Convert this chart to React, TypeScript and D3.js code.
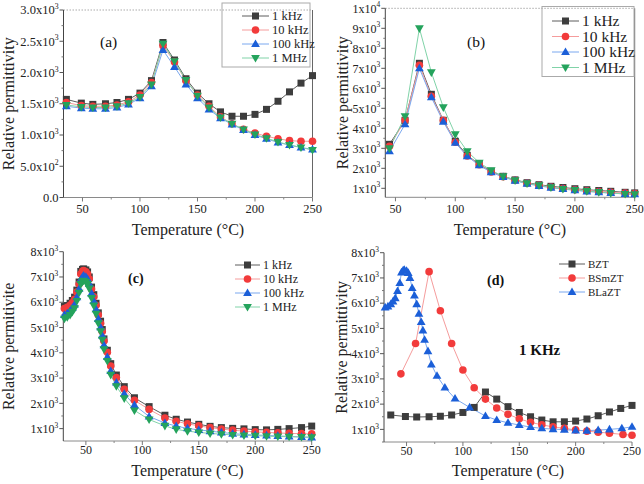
import React from "react";
import * as d3 from "d3";

// ---------- data ----------
const tempA = [36, 49, 59, 70, 80, 90, 100, 110, 120, 130, 140, 150, 160, 170, 180, 190, 200, 210, 220, 230, 240, 250];
const a1kHz = [1570, 1510, 1490, 1500, 1520, 1570, 1670, 1870, 2480, 2200, 1900, 1670, 1500, 1370, 1300, 1300, 1330, 1410, 1540, 1690, 1830, 1950];
const a10kHz = [1520, 1470, 1460, 1460, 1480, 1530, 1640, 1840, 2430, 2170, 1870, 1640, 1460, 1290, 1180, 1090, 1030, 980, 940, 910, 900, 900];
const a100kHz = [1460, 1430, 1420, 1420, 1440, 1490, 1590, 1780, 2360, 2090, 1810, 1590, 1410, 1270, 1170, 1080, 1000, 940, 880, 840, 800, 770];
const a1MHz = [1480, 1450, 1440, 1440, 1460, 1510, 1610, 1810, 2460, 2180, 1880, 1630, 1440, 1280, 1180, 1090, 1010, 950, 890, 840, 800, 760];

const tempB = [45, 58, 70, 80, 90, 100, 110, 120, 130, 140, 150, 160, 170, 180, 190, 200, 210, 220, 230, 242, 250];
const b1kHz = [3200, 4400, 7250, 5700, 4400, 3350, 2650, 2200, 1850, 1600, 1420, 1280, 1180, 1100, 1040, 980, 930, 890, 850, 800, 770];
const b10kHz = [3100, 4400, 7150, 5600, 4400, 3300, 2620, 2180, 1820, 1580, 1400, 1250, 1150, 1060, 990, 930, 880, 840, 800, 760, 740];
const b100kHz = [2850, 4200, 7000, 5550, 4330, 3280, 2600, 2150, 1800, 1560, 1380, 1230, 1120, 1030, 960, 900, 840, 800, 760, 720, 700];
const b1MHz = [3000, 4600, 9000, 6800, 5050, 3700, 2850, 2280, 1900, 1600, 1400, 1250, 1150, 1050, 970, 920, 860, 810, 760, 720, 700];

const tempC = [31, 33.5, 36, 38, 40, 42, 44, 45.5, 47, 48, 50, 51.5, 53, 55, 57, 59, 61, 63, 64.5, 66, 69, 72, 77, 84, 93, 106, 120, 130, 140, 150, 160, 170, 180, 190, 200, 210, 220, 230, 241, 250];
const c1kHz = [5830, 5870, 5960, 6070, 6200, 6480, 6800, 7220, 7300, 7320, 7280, 7200, 7000, 6600, 6300, 5960, 5580, 5250, 4920, 4550, 4100, 3570, 3120, 2660, 2220, 1870, 1530, 1370, 1260, 1170, 1090, 1040, 1010, 990, 960, 950, 970, 1000, 1040, 1100];
const c10kHz = [5750, 5800, 5880, 5980, 6120, 6400, 6720, 7120, 7220, 7250, 7200, 7120, 6920, 6520, 6220, 5880, 5500, 5170, 4840, 4470, 4020, 3480, 3020, 2560, 2120, 1760, 1420, 1290, 1190, 1110, 1040, 980, 940, 900, 870, 850, 830, 810, 800, 790];
const c100kHz = [5500, 5560, 5650, 5770, 5910, 6200, 6530, 6900, 7000, 7050, 7000, 6920, 6730, 6350, 6050, 5720, 5340, 5010, 4680, 4300, 3830, 3280, 2820, 2380, 1930, 1480, 1220, 1100, 1010, 950, 900, 850, 800, 770, 750, 730, 710, 690, 670, 650];
const c1MHz = [5350, 5410, 5500, 5620, 5760, 6050, 6380, 6720, 6820, 6850, 6800, 6720, 6540, 6170, 5870, 5540, 5170, 4850, 4520, 4140, 3680, 3130, 2680, 2200, 1720, 1360, 1110, 970, 900, 850, 810, 780, 750, 730, 720, 700, 690, 680, 670, 660];

const freqNames = ["1 kHz", "10 kHz", "100 kHz", "1 MHz"];
const sampleNames = ["BZT", "BSmZT", "BLaZT"];

const xTicks = [50, 100, 150, 200, 250];
const yTicksA = [0, 500, 1000, 1500, 2000, 2500, 3000];
const yLabelsA = ["0.0", "5.0x10^2", "1.0x10^3", "1.5x10^3", "2.0x10^3", "2.5x10^3", "3.0x10^3"];
const yTicksB = [1000, 2000, 3000, 4000, 5000, 6000, 7000, 8000, 9000, 10000];
const yLabelsB = ["1x10^3", "2x10^3", "3x10^3", "4x10^3", "5x10^3", "6x10^3", "7x10^3", "8x10^3", "9x10^3", "1x10^4"];
const yTicksC = [1000, 2000, 3000, 4000, 5000, 6000, 7000, 8000];
const yLabelsC = ["1x10^3", "2x10^3", "3x10^3", "4x10^3", "5x10^3", "6x10^3", "7x10^3", "8x10^3"];

// ---------- styles ----------
type Kind = "square" | "circle" | "up" | "down";
const STYLE: Record<Kind, { fill: string; line: string }> = {
  square: { fill: "#3d3d3d", line: "#5c5c5c" },
  circle: { fill: "#f23b3b", line: "#f59c9c" },
  up: { fill: "#1b5fd8", line: "#7aa8ef" },
  down: { fill: "#24a35c", line: "#80d3a8" },
};
const FONT = "'Liberation Serif', 'Times New Roman', serif";

type Series = { name: string; x: number[]; y: number[]; kind: Kind };

function Marker({ kind, cx, cy }: { kind: Kind; cx: number; cy: number }) {
  const f = STYLE[kind].fill;
  if (kind === "square") return <rect x={cx - 3.5} y={cy - 3.5} width={7} height={7} fill={f} />;
  if (kind === "circle") return <circle cx={cx} cy={cy} r={3.8} fill={f} />;
  if (kind === "up")
    return <path d={`M${cx},${cy - 4.6}L${cx + 4.4},${cy + 3}L${cx - 4.4},${cy + 3}Z`} fill={f} />;
  return <path d={`M${cx},${cy + 4.6}L${cx + 4.4},${cy - 3}L${cx - 4.4},${cy - 3}Z`} fill={f} />;
}

function TickLabel({ x, y, label, size }: { x: number; y: number; label: string; size: number }) {
  const [m, e] = label.split("^");
  return (
    <text x={x} y={y} fontSize={size} textAnchor="end" fontFamily={FONT} fill="#222">
      {m}
      {e !== undefined && (
        <tspan fontSize={size * 0.62} dy={-size * 0.42}>
          {e}
        </tspan>
      )}
    </text>
  );
}

type PanelProps = {
  left: number; right: number; top: number; bottom: number;
  xDomain: [number, number]; yDomain: [number, number];
  yTicks: number[]; yLabels: string[]; yLabelOffset: number;
  series: Series[];
  yTitle: string; yTitleX: number; xTitleY: number; xTickY: number;
  tag: string; tagX: number; tagY: number; tagBold: boolean;
  legend: { lx0: number; lx1: number; tx: number; rows: number[]; size: number; box?: [number, number, number, number] };
  frame: boolean;
  tickSize: number;
};

function Panel(p: PanelProps) {
  const x = d3.scaleLinear().domain(p.xDomain).range([p.left, p.right]);
  const y = d3.scaleLinear().domain(p.yDomain).range([p.bottom, p.top]);
  const line = d3.line<[number, number]>().x((d) => x(d[0])).y((d) => y(d[1]));
  const xMinor: number[] = [];
  for (let v = 25; v <= p.xDomain[1]; v += 25) if (v >= p.xDomain[0] && v % 50 !== 0) xMinor.push(v);
  const yStep = p.yTicks[1] - p.yTicks[0];
  const yMinor: number[] = [];
  for (let v = p.yTicks[0] - yStep / 2; v <= p.yDomain[1]; v += yStep) if (v >= p.yDomain[0]) yMinor.push(v);
  const cx = (p.left + p.right) / 2;
  const cy = (p.top + p.bottom) / 2;
  return (
    <g>
      {p.frame && (
        <g>
          <line x1={p.left} x2={p.right} y1={p.top} y2={p.top} stroke="#aaa" strokeWidth={1} strokeDasharray="1.5,1.5" />
          <line x1={p.right} x2={p.right} y1={p.top} y2={p.bottom} stroke="#666" strokeWidth={1} />
        </g>
      )}
      {/* axes */}
      <line x1={p.left} x2={p.right} y1={p.bottom} y2={p.bottom} stroke="#8a8a8a" strokeWidth={1} />
      <line x1={p.left} x2={p.left} y1={p.top} y2={p.bottom} stroke="#444" strokeWidth={1} />
      {xTicks.map((t) => (
        <g key={"xt" + t}>
          <line x1={x(t)} x2={x(t)} y1={p.bottom} y2={p.bottom + 4} stroke="#777" />
          <text x={x(t)} y={p.xTickY} fontSize={p.tickSize} textAnchor="middle" fontFamily={FONT} fill="#222">
            {t}
          </text>
        </g>
      ))}
      {xMinor.map((t) => (
        <line key={"xm" + t} x1={x(t)} x2={x(t)} y1={p.bottom} y2={p.bottom + 2} stroke="#888" />
      ))}
      {p.yTicks.map((t, i) => (
        <g key={"yt" + t}>
          <line x1={p.left - 4} x2={p.left} y1={y(t)} y2={y(t)} stroke="#555" />
          <TickLabel x={p.left - p.yLabelOffset} y={y(t) + p.tickSize * 0.35} label={p.yLabels[i]} size={p.tickSize} />
        </g>
      ))}
      {yMinor.map((t) => (
        <line key={"ym" + t} x1={p.left - 2} x2={p.left} y1={y(t)} y2={y(t)} stroke="#777" />
      ))}
      {/* series */}
      {p.series.map((s) => (
        <path
          key={"l" + s.name}
          d={line(s.x.map((v, i) => [v, s.y[i]] as [number, number])) || ""}
          fill="none"
          stroke={STYLE[s.kind].line}
          strokeWidth={1}
        />
      ))}
      {p.series.map((s) => (
        <g key={"m" + s.name}>
          {s.x.map((v, i) => (
            <Marker key={i} kind={s.kind} cx={x(v)} cy={y(s.y[i])} />
          ))}
        </g>
      ))}
      {/* legend */}
      {p.legend.box && (
        <rect x={p.legend.box[0]} y={p.legend.box[1]} width={p.legend.box[2]} height={p.legend.box[3]} fill="white" fillOpacity={0} stroke="#aaa" strokeWidth={1} />
      )}
      {p.series.map((s, i) => {
        const ry = p.legend.rows[i];
        return (
          <g key={"lg" + s.name}>
            <line x1={p.legend.lx0} x2={p.legend.lx1} y1={ry} y2={ry} stroke={STYLE[s.kind].line} strokeWidth={1} />
            <Marker kind={s.kind} cx={(p.legend.lx0 + p.legend.lx1) / 2} cy={ry} />
            <text x={p.legend.tx} y={ry + p.legend.size * 0.35} fontSize={p.legend.size} fontFamily={FONT} fill="#222">
              {s.name}
            </text>
          </g>
        );
      })}
      <text x={p.tagX} y={p.tagY} fontSize={p.tagBold ? 14 : 15.5} fontWeight={p.tagBold ? "bold" : "normal"} fontFamily={FONT} fill="#111">
        {p.tag}
      </text>
      {/* titles */}
      <text x={cx} y={p.xTitleY} fontSize={16} textAnchor="middle" fontFamily={FONT} fill="#222">
        Temperature (°C)
      </text>
      <text
        transform={`translate(${p.yTitleX},${cy}) rotate(-90)`}
        fontSize={16}
        textAnchor="middle"
        fontFamily={FONT}
        fill="#222"
      >
        {p.yTitle}
      </text>
    </g>
  );
}

export default function App() {
  const kinds: Kind[] = ["square", "circle", "up", "down"];
  const seriesA: Series[] = [a1kHz, a10kHz, a100kHz, a1MHz].map((v, i) => ({ name: freqNames[i], x: tempA, y: v, kind: kinds[i] }));
  const seriesB: Series[] = [b1kHz, b10kHz, b100kHz, b1MHz].map((v, i) => ({ name: freqNames[i], x: tempB, y: v, kind: kinds[i] }));
  const seriesC: Series[] = [c1kHz, c10kHz, c100kHz, c1MHz].map((v, i) => ({ name: freqNames[i], x: tempC, y: v, kind: kinds[i] }));
  const seriesD: Series[] = [
    { name: sampleNames[0], x: tempA, y: a1kHz, kind: "square" },
    { name: sampleNames[1], x: tempB, y: b1kHz, kind: "circle" },
    { name: sampleNames[2], x: tempC, y: c1kHz, kind: "up" },
  ];
  return (
    <svg width={644} height={484} style={{ position: "absolute", left: 0, top: 0, background: "white" }}>
      <rect width={644} height={484} fill="white" />
      <Panel
        left={63.5} right={312.5} top={10} bottom={197.5}
        xDomain={[33.5, 250]} yDomain={[0, 3000]}
        yTicks={yTicksA} yLabels={yLabelsA} yLabelOffset={5}
        series={seriesA}
        yTitle="Relative permittivity" yTitleX={14} xTitleY={235} xTickY={213}
        tag="(a)" tagX={100} tagY={47} tagBold={false}
        legend={{ lx0: 242, lx1: 269, tx: 272, rows: [16, 30, 44, 58], size: 12.5, box: [222, 3, 88, 64] }}
        frame={true} tickSize={12.5}
      />
      <Panel
        left={385.3} right={634.7} top={8.3} bottom={197.3}
        xDomain={[41.5, 250]} yDomain={[550, 10000]}
        yTicks={yTicksB} yLabels={yLabelsB} yLabelOffset={5}
        series={seriesB}
        yTitle="Relative permittivity" yTitleX={348} xTitleY={235} xTickY={213}
        tag="(b)" tagX={467} tagY={47} tagBold={false}
        legend={{ lx0: 552, lx1: 579, tx: 582, rows: [21, 36.5, 52, 67.5], size: 15.5, box: [542, 6.5, 92, 70] }}
        frame={true} tickSize={12}
      />
      <Panel
        left={63.3} right={311.7} top={251.7} bottom={441}
        xDomain={[30, 250]} yDomain={[510, 8000]}
        yTicks={yTicksC} yLabels={yLabelsC} yLabelOffset={5}
        series={seriesC}
        yTitle="Relative permitivite" yTitleX={14} xTitleY={476} xTickY={454}
        tag="(c)" tagX={128} tagY={283} tagBold={true}
        legend={{ lx0: 235, lx1: 260, tx: 263, rows: [265, 279, 293, 307], size: 12 }}
        frame={false} tickSize={12}
      />
      <Panel
        left={384} right={632} top={252.7} bottom={442}
        xDomain={[30, 250]} yDomain={[500, 8000]}
        yTicks={yTicksC} yLabels={yLabelsC} yLabelOffset={5}
        series={seriesD}
        yTitle="Relative permittivity" yTitleX={347} xTitleY={476} xTickY={455}
        tag="(d)" tagX={487} tagY={285} tagBold={true}
        legend={{ lx0: 559, lx1: 585, tx: 588, rows: [264, 278, 292], size: 11 }}
        frame={false} tickSize={12}
      />
      <text x={519} y={355} fontSize={15} fontWeight="bold" fontFamily={FONT} fill="#111">
        1 KHz
      </text>
    </svg>
  );
}
